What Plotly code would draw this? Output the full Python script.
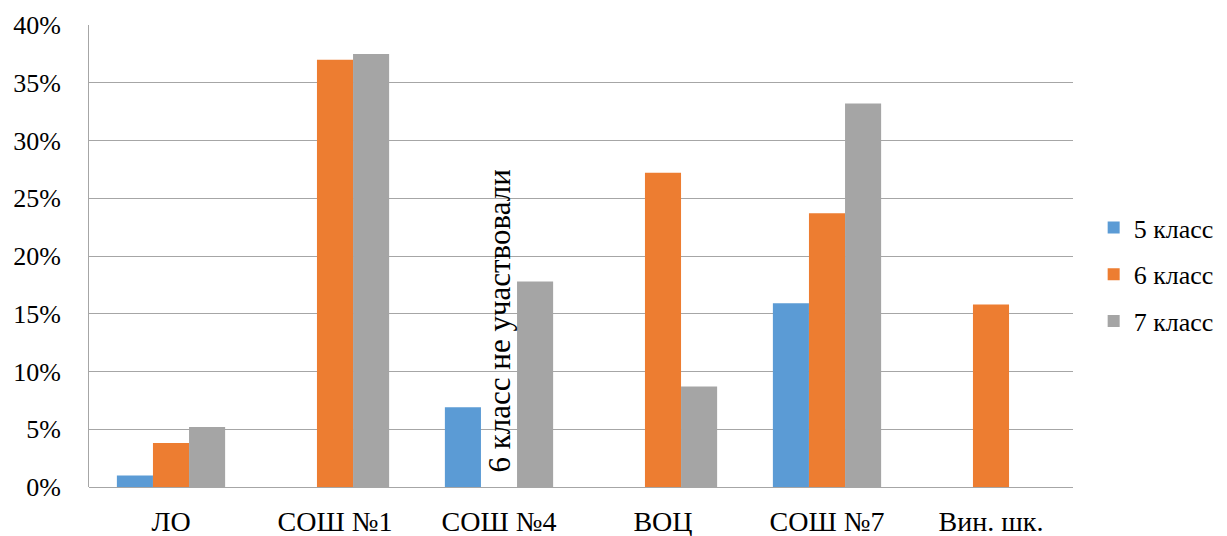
import plotly.graph_objects as go

categories = ["ЛО", "СОШ №1", "СОШ №4", "ВОЦ", "СОШ №7", "Вин. шк."]
series_names = ["5 класс", "6 класс", "7 класс"]
grade5 = [0.010, None, 0.069, None, 0.159, None]
grade6 = [0.038, 0.370, None, 0.272, 0.237, 0.158]
grade7 = [0.052, 0.375, 0.178, 0.087, 0.332, None]
colors = ["#5B9BD5", "#ED7D31", "#A5A5A5"]
note_text = "6 класс не участвовали"
note_category = "СОШ №4"

FONT = "Times New Roman, Liberation Serif, serif"

fig = go.Figure()
for name, vals, col in zip(series_names, [grade5, grade6, grade7], colors):
    fig.add_trace(go.Bar(x=categories, y=vals, name=name, marker_color=col,
                         marker_line_width=0, legendgroup=name))

fig.add_annotation(x=note_category, y=0, xref="x", yref="y", text=note_text,
                   textangle=-90, showarrow=False, yanchor="bottom", yshift=12,
                   font=dict(family=FONT, size=31, color="#000000"))

fig.update_layout(
    width=1219, height=528, autosize=False,
    margin=dict(l=81, r=154, t=17, b=49, autoexpand=False),
    paper_bgcolor="white", plot_bgcolor="white",
    barmode="group", bargap=0.34, bargroupgap=0,
    font=dict(family=FONT, size=27, color="#000000"),
    legend=dict(x=1.021, y=0.46, yanchor="middle", xanchor="left",
                font=dict(family=FONT, size=26, color="#000000"), itemwidth=30,
                tracegroupgap=10, bgcolor="rgba(0,0,0,0)"),
    xaxis=dict(showgrid=False, showline=False, ticks="", ticklabelstandoff=15,
               automargin=False,
               tickfont=dict(family=FONT, size=28, color="#000000")),
    yaxis=dict(range=[0, 0.40], dtick=0.05, tickformat=".0%",
               showgrid=True, gridcolor="#A6A6A6", gridwidth=1,
               showline=True, linecolor="#A6A6A6", linewidth=1,
               zeroline=True, zerolinecolor="#A6A6A6", zerolinewidth=1,
               ticks="", ticklabelstandoff=22, automargin=False,
               tickfont=dict(family=FONT, size=26, color="#000000")),
)

fig.write_html("out.html")
